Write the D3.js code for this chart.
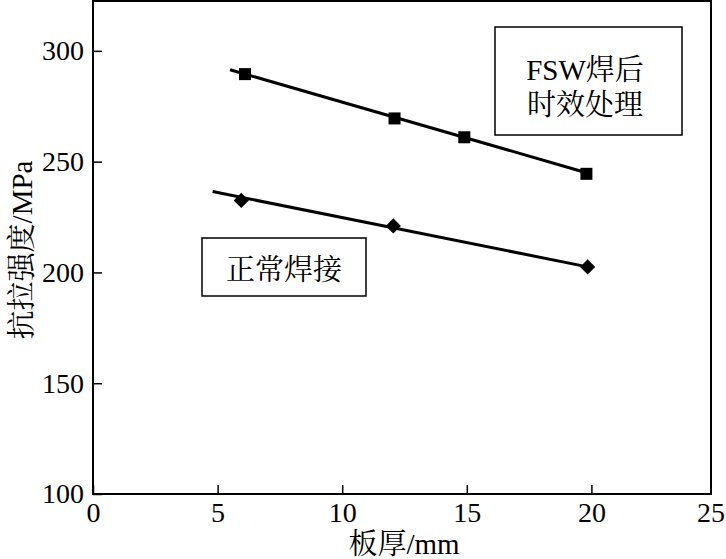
<!DOCTYPE html>
<html><head><meta charset="utf-8">
<script src="https://cdn.jsdelivr.net/npm/d3@7"></script>
<style>body{margin:0;background:#fff}svg{display:block}text{font-family:"Liberation Serif","Noto Serif CJK SC","Noto Sans CJK SC",serif;fill:#000}</style>
</head><body><svg id="c" width="726" height="559"></svg>
<script>
const xTicks = [0, 5, 10, 15, 20, 25];
const yTicks = [100, 150, 200, 250, 300];
const fswX = [6.1, 12.1, 14.9, 19.8];
const fswY = [289.5, 269.5, 261, 244.5];
const normX = [5.95, 12.05, 19.85];
const normY = [232.5, 221, 202.5];
const fswFitX = [5.5, 19.8];
const fswFitY = [291.5, 245];
const normFitX = [4.8, 19.85];
const normFitY = [236.5, 202.5];

const svg = d3.select("#c");
const L = 93, R = 711, T = 1, B = 494;
const x = d3.scaleLinear().domain([0, 25]).range([L, 716]);
const y = d3.scaleLinear().domain([100, 322.5]).range([B, T]);

// frame
svg.append("rect").attr("x", L).attr("y", T).attr("width", R - L).attr("height", B - T)
  .attr("fill", "none").attr("stroke", "#000").attr("stroke-width", 2);

const xAxis = svg.append("g").attr("transform", `translate(0,${B})`)
  .call(d3.axisBottom(x).tickValues(xTicks.slice(0, -1)).tickSize(-9).tickPadding(7).tickFormat(d3.format("d")));
const yAxis = svg.append("g").attr("transform", `translate(${L},0)`)
  .call(d3.axisLeft(y).tickValues(yTicks).tickSize(-9).tickPadding(9).tickFormat(d3.format("d")));
[xAxis, yAxis].forEach(a => {
  a.select(".domain").remove();
  a.selectAll("line").attr("stroke", "#000").attr("stroke-width", 1.5);
  a.selectAll("text").style("font-size", "28px").attr("fill", "#000");
});
xAxis.selectAll("text").attr("dy", "0.75em");
// last x tick label sits at the frame edge
svg.append("text").attr("x", 725).attr("y", B + 7).attr("dy", "0.75em")
  .attr("text-anchor", "end").style("font-size", "28px").text(xTicks[xTicks.length - 1]);

// lines
const line = d3.line().x(d => x(d[0])).y(d => y(d[1]));
svg.append("path").datum(d3.zip(fswFitX, fswFitY)).attr("d", line)
  .attr("stroke", "#000").attr("stroke-width", 3).attr("fill", "none");
svg.append("path").datum(d3.zip(normFitX, normFitY)).attr("d", line)
  .attr("stroke", "#000").attr("stroke-width", 3).attr("fill", "none");

// markers
svg.selectAll(".sq").data(d3.zip(fswX, fswY)).join("rect")
  .attr("x", d => x(d[0]) - 6).attr("y", d => y(d[1]) - 6)
  .attr("width", 12).attr("height", 12).attr("fill", "#000");
const diamond = d3.symbol().type(d3.symbolSquare).size(115);
svg.selectAll(".dm").data(d3.zip(normX, normY)).join("path")
  .attr("d", diamond)
  .attr("transform", d => `translate(${x(d[0])},${y(d[1])}) rotate(45)`)
  .attr("fill", "#000");

// annotation boxes
svg.append("rect").attr("x", 495).attr("y", 27).attr("width", 187).attr("height", 108)
  .attr("fill", "#fff").attr("stroke", "#000").attr("stroke-width", 1.5);
svg.append("text").attr("x", 585).attr("y", 80).attr("text-anchor", "middle")
  .style("font-size", "29px").text("FSW焊后");
svg.append("text").attr("x", 585).attr("y", 115).attr("text-anchor", "middle")
  .style("font-size", "29px").text("时效处理");

svg.append("rect").attr("x", 202).attr("y", 238).attr("width", 164).attr("height", 58)
  .attr("fill", "#fff").attr("stroke", "#000").attr("stroke-width", 1.5);
svg.append("text").attr("x", 284).attr("y", 280).attr("text-anchor", "middle")
  .style("font-size", "29px").text("正常焊接");

// axis titles
svg.append("text").attr("x", 404).attr("y", 554).attr("text-anchor", "middle")
  .style("font-size", "29px").text("板厚/mm");
svg.append("text").attr("transform", "translate(32,250) rotate(-90)").attr("text-anchor", "middle")
  .style("font-size", "29px").text("抗拉强度/MPa");
</script></body></html>
